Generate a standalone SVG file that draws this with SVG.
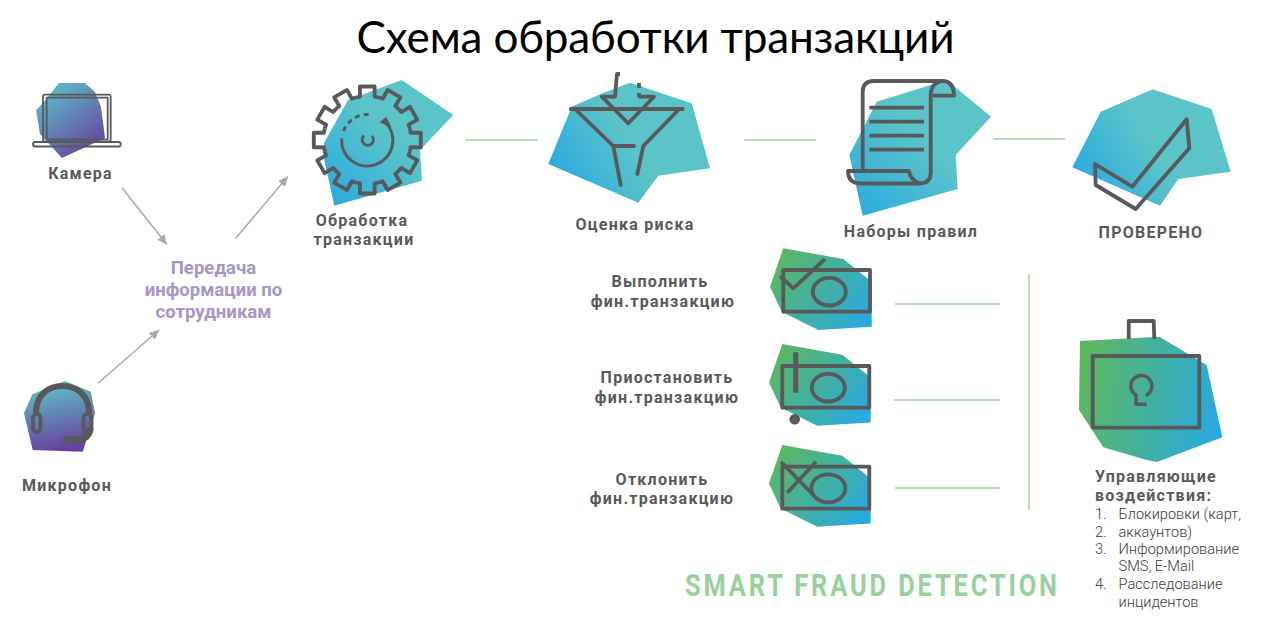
<svg xmlns="http://www.w3.org/2000/svg" xmlns:xlink="http://www.w3.org/1999/xlink" width="1280" height="626" viewBox="0 0 1280 626">
<style>
.ic{fill:none;stroke:#58595b;stroke-width:3.800;stroke-linejoin:round}
.thin{fill:none;stroke:#58595b;stroke-width:1.800;stroke-linejoin:round}
.lb{font-family:Roboto,"Liberation Sans",sans-serif;font-weight:700;font-size:16px;letter-spacing:1.25px;fill:#58595b;text-anchor:middle}
.li{font-family:Roboto,"Liberation Sans",sans-serif;font-weight:300;font-size:14.600px;fill:#3a3a3c}
.pu{font-family:Roboto,"Liberation Sans",sans-serif;font-weight:700;font-size:18.600px;fill:#a996c8;text-anchor:middle}
.ln{fill:none;stroke:#b4dfb6;stroke-width:2}
.ar{fill:none;stroke:#a7a9ac;stroke-width:1.500;marker-end:url(#ah)}
</style>
<defs>
<marker id="ah" markerUnits="userSpaceOnUse" markerWidth="11" markerHeight="10" refX="9.500" refY="5" orient="auto"><path d="M0,0.500L10,5L0,9.500z" fill="#a7a9ac"/></marker>
<linearGradient id="gt" x1="0" y1="1" x2="1" y2="0"><stop offset="0" stop-color="#29a9e1"/><stop offset=".55" stop-color="#5bc4c9"/></linearGradient>
<linearGradient id="gt2" x1="0" y1=".72" x2="1" y2=".28"><stop offset="0" stop-color="#29a9e1"/><stop offset=".5" stop-color="#5bc4c9"/></linearGradient>
<linearGradient id="gg" x1="0" y1="0.2" x2="1" y2="0.8"><stop offset="0" stop-color="#5cb85f"/><stop offset="1" stop-color="#29a9e1"/></linearGradient>
<linearGradient id="gg2" x1="0" y1="0.42" x2="1" y2="0.58"><stop offset="0" stop-color="#5cb85f"/><stop offset="1" stop-color="#29a9e1"/></linearGradient>
<linearGradient id="gp" x1="0.15" y1="0" x2="0.85" y2="1"><stop offset="0" stop-color="#5bc4c9"/><stop offset="1" stop-color="#6a3a9e"/></linearGradient>
<linearGradient id="gp2" x1="0.4" y1="0" x2="0.6" y2="1"><stop offset="0" stop-color="#5bc4c9"/><stop offset="1" stop-color="#6a3a9e"/></linearGradient>
<path id="tooth" d="M-11.390,-42.500A44,44 0 0 1 -7.260,-43.400L-7.400,-53.500H7.400L7.260,-43.400A44,44 0 0 1 11.390,-42.500"/>
<polygon id="sb" points="783.300,248.300 843.300,259 871.700,281.700 871.700,326.700 818.300,330 781.700,311.700 770,286.700" fill="url(#gg)"/>
</defs>
<rect width="1280" height="626" fill="#fff"/>
<text id="title" x="655.500" y="53" font-family="Lato,'Open Sans',sans-serif" font-size="44" text-anchor="middle" fill="#000" textLength="598">Схема обработки транзакций</text>

<g id="connectors">
<path class="ar" d="M122,187.700L166.700,244.300"/>
<path class="ar" d="M235.700,238.300L287.700,176.700"/>
<path class="ar" d="M98,383.300L159,330"/>
<path class="ln" d="M465.700,140H537.700"/>
<path class="ln" d="M744,140H816"/>
<path class="ln" d="M993,139H1065"/>
<path class="ln" d="M895,304H1000.500"/>
<path class="ln" d="M894,400H1000"/>
<path class="ln" d="M895,488H1000.500"/>
<path class="ln" d="M1029,274V510"/>
</g>

<g id="node-camera">
<polygon points="59,83 85,83 95,92 101,107 105,138 62,158 40,134 36,110 43,103" fill="url(#gp)"/>
<rect class="thin" x="43" y="94.700" width="67.700" height="46.800" rx="2"/>
<rect class="thin" x="46.700" y="97.700" width="61" height="41.600"/>
<rect class="thin" x="33" y="142" width="87.700" height="4.500" rx="2"/>
<text class="lb" x="80.500" y="179">Камера</text>
</g>

<g id="node-mic">
<polygon points="65,381 90.700,391.700 95,413.300 82.700,451.700 32.700,450 24,413.300 32.300,394.300" fill="url(#gp2)"/>
<path class="ic" style="stroke-width:6" d="M36,413C36,395 48,386 62.300,386C77,386 89,395 89,413"/>
<rect class="ic" x="33" y="414" width="7.500" height="18" rx="3.700"/>
<rect class="ic" x="83.500" y="414" width="8" height="18" rx="3.700"/>
<path class="ic" style="stroke-width:7;stroke-linecap:round" d="M90,430Q87,440 76,440H66"/>
<text class="lb" x="67" y="490.700">Микрофон</text>
</g>

<g id="node-info">
<text class="pu" x="213.500" y="274">Передача</text>
<text class="pu" x="213.500" y="296">информации по</text>
<text class="pu" x="213.500" y="318">сотрудникам</text>
</g>

<g id="node-processing">
<polygon points="401.700,80 453.300,115 420,150 422,180.700 334.300,205.700 324.300,160 324,143 348,100" fill="url(#gt)"/>
<g class="ic" transform="translate(367.300,140)">
<use xlink:href="#tooth"/><use xlink:href="#tooth" transform="rotate(30)"/><use xlink:href="#tooth" transform="rotate(60)"/><use xlink:href="#tooth" transform="rotate(90)"/><use xlink:href="#tooth" transform="rotate(120)"/><use xlink:href="#tooth" transform="rotate(150)"/><use xlink:href="#tooth" transform="rotate(180)"/><use xlink:href="#tooth" transform="rotate(210)"/><use xlink:href="#tooth" transform="rotate(240)"/><use xlink:href="#tooth" transform="rotate(270)"/><use xlink:href="#tooth" transform="rotate(300)"/><use xlink:href="#tooth" transform="rotate(330)"/>
</g>
<path class="ic" style="stroke-width:3" d="M385,122A25.600,25.600 0 1 1 341.700,138.300"/>
<path class="ic" style="stroke-width:3;stroke-dasharray:5 4" d="M343.500,131A25.600,25.600 0 0 1 369,114.500"/>
<path d="M381,122L386,118L390,126z" fill="#58595b" stroke="#58595b" stroke-width="1.500"/>
<path class="ic" style="stroke-width:3" d="M372,136A5.600,5.600 0 1 1 364,135.500"/>
<text class="lb" x="362" y="226">Обработка</text>
<text class="lb" x="364" y="245">транзакции</text>
</g>

<g id="node-risk">
<polygon points="630,82.700 691.700,103.300 710,168.300 658.300,175.700 638.300,202.700 548.300,164 571.700,106.700 603,93" fill="url(#gt2)"/>
<path class="ic" style="stroke-linecap:round" d="M570.700,109H682.700M575,109L613.300,146L620.700,185M613.300,146H634M679.300,109L643.300,146L637.300,174"/>
<path class="ic" d="M620,74H617L615,96.700H601.700L628.300,123.300L654,96.700H638.300M639,83V88M639,93V97"/>
<text class="lb" x="635" y="230">Оценка риска</text>
</g>

<g id="node-rules">
<polygon points="876.700,101.700 946.700,80 991,116.700 955.700,155 957.700,189 862.700,215.700 849.300,155" fill="url(#gt)"/>
<path class="ic" d="M862.700,170V92Q862.700,81 874,81H942Q954,81 954,95.700H933M942,81Q931,83 930.700,95V173Q930.700,183 920,183.500H860Q848,183 848,171H909Q910,180 920,183.500"/>
<path class="ic" d="M869.300,107.700H924M869.300,121.700H924M869.300,135.700H924M869.300,149.700H924"/>
<text class="lb" x="911" y="236.700">Наборы правил</text>
</g>

<g id="node-verified">
<polygon points="1152.700,89.300 1211.700,109 1230.700,171.700 1178.300,179 1160,205.700 1072.300,167.300 1100.700,111.700" fill="url(#gt2)"/>
<path class="ic" d="M1095,164L1132.300,186.700L1186.700,119.300L1189.300,148.300L1135.700,209L1095.700,185z"/>
<text class="lb" x="1151" y="237.700">ПРОВЕРЕНО</text>
</g>

<g id="node-execute">
<use xlink:href="#sb"/>
<rect class="ic" x="783.300" y="270" width="86.700" height="41.700"/>
<ellipse class="ic" cx="829.300" cy="291.700" rx="16.500" ry="13.800"/>
<path class="ic" d="M780,276L793.300,288.300L825,259"/>
<text class="lb" x="660" y="287">Выполнить</text>
<text class="lb" x="663" y="306.700">фин.транзакцию</text>
</g>

<g id="node-pause">
<use xlink:href="#sb" transform="translate(-1,95.700)"/>
<rect class="ic" x="782.300" y="366" width="87" height="41.700"/>
<ellipse class="ic" cx="828.300" cy="387.700" rx="16.500" ry="13.800"/>
<path class="ic" style="stroke-width:5" d="M795.700,352.300V392.700"/>
<circle cx="794.700" cy="419.300" r="5.300" fill="#58595b"/>
<text class="lb" x="667" y="383">Приостановить</text>
<text class="lb" x="667" y="402.700">фин.транзакцию</text>
</g>

<g id="node-decline">
<use xlink:href="#sb" transform="translate(-1,196.700)"/>
<rect class="ic" x="782.300" y="466.700" width="87" height="42"/>
<ellipse class="ic" cx="828.300" cy="488.300" rx="17" ry="14"/>
<path class="ic" d="M781,461.700L813.300,495M816,461.700L787.300,492.700"/>
<text class="lb" x="662" y="485">Отклонить</text>
<text class="lb" x="662" y="504.300">фин.транзакцию</text>
</g>

<g id="node-actions">
<polygon points="1080,341 1159.300,336.700 1206.700,365 1222.300,437.300 1157,462 1146.700,460 1103.300,447.300 1079,410" fill="url(#gg2)"/>
<rect class="ic" x="1092.700" y="356" width="106.600" height="71.700"/>
<path class="ic" d="M1128.700,339V321H1153.700L1154.300,339"/>
<path class="ic" style="stroke-width:3.500" d="M1145.700,395.500A10.500,10.500 0 1 0 1136,395V404.300H1146.700"/>
<text class="lb" style="text-anchor:start" x="1095" y="481.700">Управляющие</text>
<text class="lb" style="text-anchor:start" x="1095" y="500.700">воздействия:</text>
<text class="li" x="1095" y="519">1.</text><text class="li" x="1118.500" y="519">Блокировки (карт,</text>
<text class="li" x="1095" y="536.700">2.</text><text class="li" x="1118.500" y="536.700">аккаунтов)</text>
<text class="li" x="1095" y="554.300">3.</text><text class="li" x="1118.500" y="554.300">Информирование</text>
<text class="li" x="1118.500" y="571">SMS, E-Mail</text>
<text class="li" x="1095" y="589">4.</text><text class="li" x="1118.500" y="589">Расследование</text>
<text class="li" x="1118.500" y="606.700">инцидентов</text>
</g>

<text id="brand" transform="translate(685,595.700) scale(.82,1)" font-family="Roboto,'Liberation Sans',sans-serif" font-weight="700" font-size="31" fill="#98d19c" textLength="453.700" lengthAdjust="spacing">SMART FRAUD DETECTION</text>
</svg>
